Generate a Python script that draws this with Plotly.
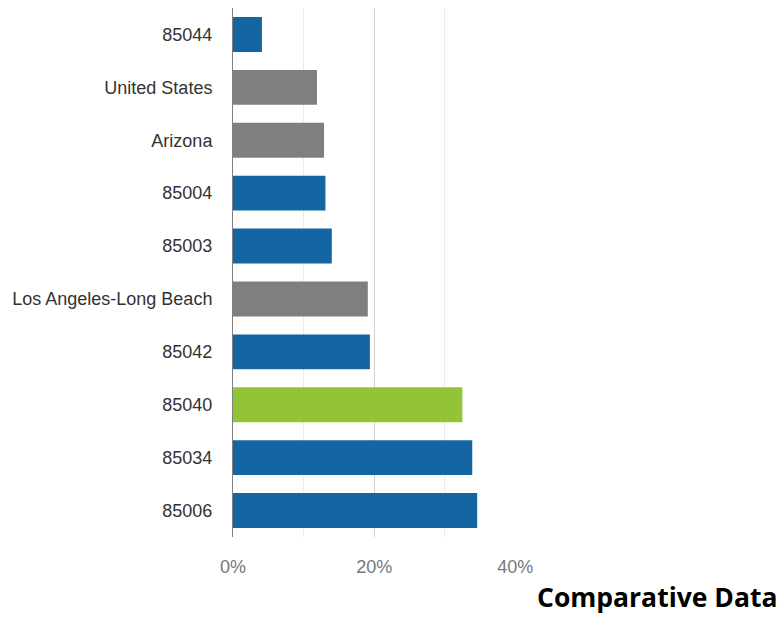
import plotly.graph_objects as go

categories = ["85044", "United States", "Arizona", "85004", "85003",
              "Los Angeles-Long Beach", "85042", "85040", "85034", "85006"]
values = [4.1, 11.9, 12.9, 13.1, 14.0, 19.1, 19.4, 32.5, 33.9, 34.6]
group = ["zip", "ref", "ref", "zip", "zip", "ref", "zip", "focus", "zip", "zip"]
palette = {"zip": "#1366a2", "ref": "#7f7f7f", "focus": "#93c337"}
x_ticks = [0, 20, 40]
x_tick_labels = ["0%", "20%", "40%"]
caption = "Comparative Data"

fig = go.Figure(go.Bar(
    y=categories, x=values, orientation="h",
    marker=dict(color=[palette[g] for g in group], line=dict(width=0)),
    hoverinfo="x+y",
))

fig.update_layout(
    width=780, height=618,
    margin=dict(l=233, r=264, t=8, b=81),
    paper_bgcolor="white", plot_bgcolor="white",
    bargap=0.34, showlegend=False,
    font=dict(family="Liberation Sans, Arial, sans-serif"),
    annotations=[dict(
        text=caption, xref="paper", yref="paper",
        x=(779 - 233) / 283, y=(537 - 597) / 529,
        xanchor="right", yanchor="middle", showarrow=False,
        font=dict(family="Open Sans, sans-serif", size=26.5, color="#000000", weight="bold"),
    )],
)
fig.update_xaxes(
    range=[0, 40.1], tickvals=x_ticks, ticktext=x_tick_labels,
    showgrid=True, gridcolor="#d0d0d0", gridwidth=1,
    minor=dict(dtick=10, showgrid=True, gridcolor="#ebebeb", gridwidth=1),
    zeroline=False, showline=False, ticks="",
    tickfont=dict(size=18, color="#777777"), ticklabelstandoff=17,
)
fig.update_yaxes(
    autorange="reversed", showgrid=False, zeroline=False,
    showline=True, linecolor="#808080", linewidth=1, ticks="",
    tickfont=dict(size=18, color="#333333"), ticklabelstandoff=16,
)

fig.write_html("out.html")
